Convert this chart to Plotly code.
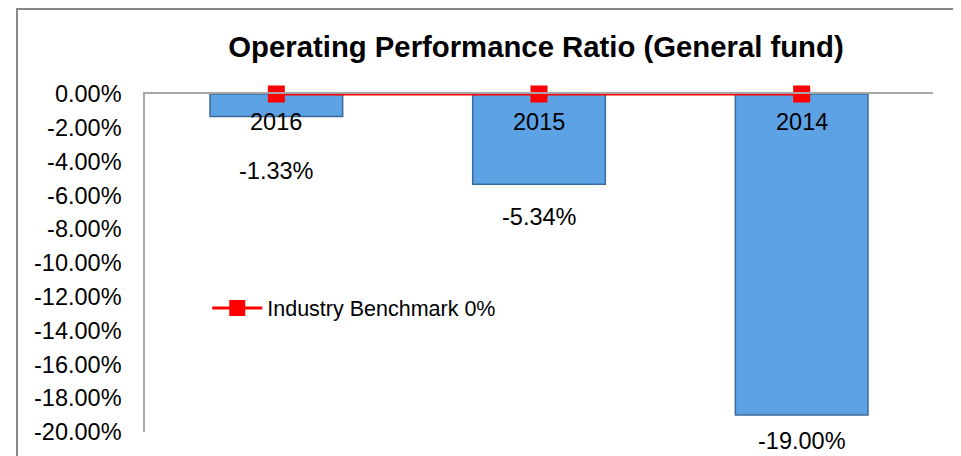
import plotly.graph_objects as go

categories = ["2016", "2015", "2014"]
ratio_values = [-1.33, -5.34, -19.00]
ratio_labels = ["-1.33%", "-5.34%", "-19.00%"]
benchmark_values = [0, 0, 0]
benchmark_name = "Industry Benchmark 0%"
y_tick_values = [0, -2, -4, -6, -8, -10, -12, -14, -16, -18, -20]
y_tick_labels = ["0.00%", "-2.00%", "-4.00%", "-6.00%", "-8.00%", "-10.00%",
                 "-12.00%", "-14.00%", "-16.00%", "-18.00%", "-20.00%"]
label_offsets = [-55, -33, -26]

FONT = "Liberation Sans, Arial, sans-serif"

# page body adds an 8px offset; the figure is sized to fill the rest of the window
W, H = 953, 448

fig = go.Figure()
fig.add_trace(go.Bar(
    x=categories, y=ratio_values,
    marker=dict(color="#5da2e4", line=dict(color="#3d6a99", width=1.5)),
    showlegend=False, hoverinfo="skip",
))
fig.add_trace(go.Scatter(
    x=categories, y=benchmark_values, name=benchmark_name,
    mode="lines+markers",
    line=dict(color="#ff0000", width=3),
    marker=dict(symbol="square", size=17, color="#ff0000"),
    cliponaxis=False,
))

# data labels (category axis positions given by index)
for i, (v, t, off) in enumerate(zip(ratio_values, ratio_labels, label_offsets)):
    fig.add_annotation(x=i, y=v, xref="x", yref="y", text=t, showarrow=False,
                       yanchor="middle", yshift=off,
                       font=dict(family=FONT, size=23.5, color="#000000"))
# category labels next to the zero line
for i, c in enumerate(categories):
    fig.add_annotation(x=i, y=0, xref="x", yref="y", text=c, showarrow=False,
                       yanchor="middle", yshift=-28,
                       font=dict(family=FONT, size=23.5, color="#000000"))

fig.add_shape(type="rect", xref="paper", yref="paper",
              x0=-0.1624, x1=1.1, y0=-0.2, y1=1.2515,
              line=dict(color="#878787", width=2), layer="below")

fig.update_layout(
    width=W, height=H,
    margin=dict(l=137, r=28, t=86, b=24),
    paper_bgcolor="white", plot_bgcolor="white",
    font=dict(family=FONT, size=23, color="#000000"),
    title=dict(text="<b>Operating Performance Ratio (General fund)</b>",
               x=528 / W, xanchor="center", y=1 - 39 / H, yanchor="middle",
               yref="container", font=dict(family=FONT, size=29.3, color="#000000")),
    bargap=0.495,
    legend=dict(x=0.079, y=0.367, xanchor="left", yanchor="middle",
                bgcolor="rgba(0,0,0,0)", font=dict(family=FONT, size=21.5),
                itemwidth=50),
    xaxis=dict(type="category", side="top", showticklabels=False,
               showline=True, automargin=False, range=[-0.5, 2.5],
               linecolor="#a6a6a6", linewidth=1.5, ticks="", showgrid=False,
               zeroline=False),
    yaxis=dict(range=[-20, 0], tickvals=y_tick_values, ticktext=y_tick_labels,
               showline=True, linecolor="#a6a6a6", linewidth=1.5, showgrid=False,
               zeroline=False, ticks="outside", ticklen=17, tickcolor="rgba(0,0,0,0)",
               automargin=False,
               tickfont=dict(family=FONT, size=23.5, color="#000000")),
)

fig.write_html("out.html")
